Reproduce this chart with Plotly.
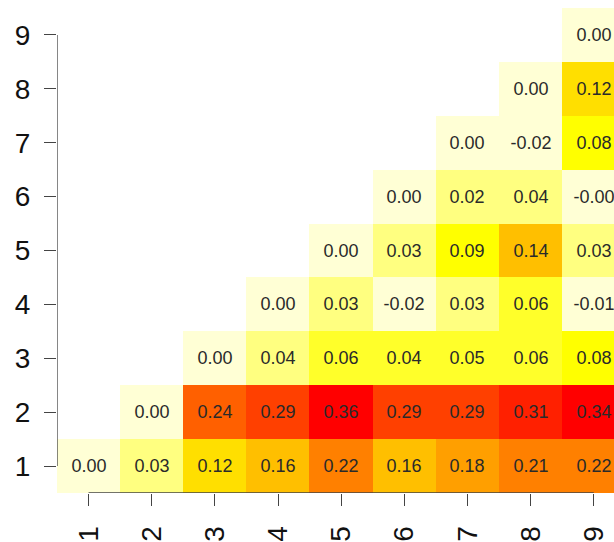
import plotly.graph_objects as go

# Data: rows = y category (1..9), columns = x category (1..9); None = empty
x_labels = ["1", "2", "3", "4", "5", "6", "7", "8", "9"]
y_labels = ["1", "2", "3", "4", "5", "6", "7", "8", "9"]

row1 = [0.00, 0.03, 0.12, 0.16, 0.22, 0.16, 0.18, 0.21, 0.22]
row2 = [None, 0.00, 0.24, 0.29, 0.36, 0.29, 0.29, 0.31, 0.34]
row3 = [None, None, 0.00, 0.038, 0.06, 0.044, 0.05, 0.06, 0.08]
row4 = [None, None, None, 0.00, 0.03, -0.02, 0.03, 0.06, -0.01]
row5 = [None, None, None, None, 0.00, 0.03, 0.09, 0.14, 0.03]
row6 = [None, None, None, None, None, 0.00, 0.02, 0.038, -0.003]
row7 = [None, None, None, None, None, None, 0.00, -0.02, 0.08]
row8 = [None, None, None, None, None, None, None, 0.00, 0.12]
row9 = [None, None, None, None, None, None, None, None, 0.00]

z = [row1, row2, row3, row4, row5, row6, row7, row8, row9]
text = [["" if v is None else f"{v:.2f}" for v in r] for r in z]

# reversed R heat.colors(12)
heat_cols = ["#FFFFD5", "#FFFF80", "#FFFF2A", "#FFFF00", "#FFDF00", "#FFBF00",
             "#FF9F00", "#FF8000", "#FF6000", "#FF4000", "#FF2000", "#FF0000"]
n = len(heat_cols)
colorscale = []
for i, c in enumerate(heat_cols):
    colorscale.append([i / n, c])
    colorscale.append([(i + 1) / n, c])

xs = [int(v) for v in x_labels]
ys = [int(v) for v in y_labels]

fig = go.Figure(go.Heatmap(
    x=xs, y=ys, z=z, text=text, texttemplate="%{text}",
    textfont=dict(family="Liberation Sans, Arial, sans-serif", size=18, color="#2a2a2a"),
    colorscale=colorscale, zmin=-0.02, zmax=0.36, showscale=False,
    hoverongaps=False,
))

axis_col = "#444444"
fig.update_layout(
    width=614, height=542,
    margin=dict(l=57, r=0, t=8, b=42),
    paper_bgcolor="white", plot_bgcolor="white",
    font=dict(family="Liberation Sans, Arial, sans-serif", color="#111111"),
    xaxis=dict(range=[0.5, 9.32], tickvals=xs, ticktext=x_labels, tickangle=-90,
               ticks="outside", ticklen=12, tickwidth=1.3, tickcolor=axis_col,
               ticklabelstandoff=9,
               tickfont=dict(size=28), showgrid=False, zeroline=False, showline=False,
               fixedrange=True),
    yaxis=dict(range=[0.5, 9.5], tickvals=ys, ticktext=y_labels,
               ticks="outside", ticklen=12, tickwidth=1.3, tickcolor=axis_col,
               ticklabelstandoff=8,
               tickfont=dict(size=28), showgrid=False, zeroline=False, showline=False,
               fixedrange=True),
    shapes=[
        dict(type="line", xref="x", yref="y", x0=0.5, x1=0.5, y0=ys[0], y1=ys[-1],
             line=dict(color=axis_col, width=1.3), layer="above"),
        dict(type="line", xref="x", yref="y", x0=xs[0], x1=xs[-1], y0=0.5, y1=0.5,
             line=dict(color=axis_col, width=1.3), layer="above"),
    ],
)

fig.write_html("out.html", config={"displayModeBar": False},
               post_script="document.body.style.margin='0';document.body.style.overflow='hidden';")
